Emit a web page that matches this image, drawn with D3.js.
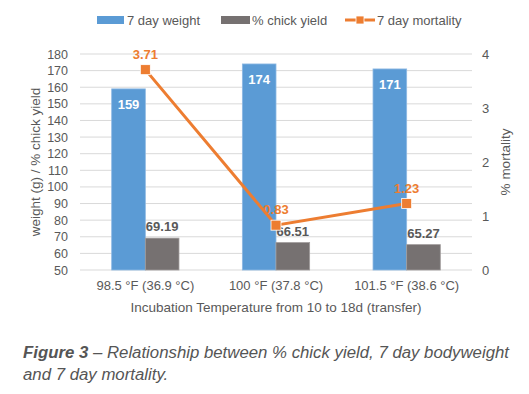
<!DOCTYPE html>
<html>
<head>
<meta charset="utf-8">
<script src="https://cdn.jsdelivr.net/npm/d3@7"></script>
<style>
  body { margin: 0; background: #fff; }
  svg { display: block; font-family: "Liberation Sans", Arial, sans-serif; }
</style>
</head>
<body>
<svg id="chart" width="529" height="394"></svg>
<script>
const categories = ["98.5 °F (36.9 °C)", "100 °F (37.8 °C)", "101.5 °F (38.6 °C)"];
const weight = [159, 174, 171];
const chickYield = [69.19, 66.51, 65.27];
const mortality = [3.71, 0.83, 1.23];
const leftTicks = d3.range(50, 181, 10);
const rightTicks = [0, 1, 2, 3, 4];

const svg = d3.select("#chart");
const plot = { left: 80, right: 472, top: 54, bottom: 270 };

const x = d3.scaleBand().domain(categories).range([plot.left, plot.right]).paddingInner(0.485).paddingOuter(0.2425);
const sub = d3.scaleBand().domain(["w", "y"]).range([0, x.bandwidth()]);
const yL = d3.scaleLinear().domain([50, 180]).range([plot.bottom, plot.top]);
const yR = d3.scaleLinear().domain([0, 4]).range([plot.bottom, plot.top]);

const textCol = "#595959";
const blue = "#5B9BD5", grey = "#767171", orange = "#ED7D31";
const fs = 13;

// gridlines
svg.append("g").selectAll("line")
  .data(leftTicks)
  .join("line")
  .attr("x1", plot.left).attr("x2", plot.right)
  .attr("y1", d => yL(d)).attr("y2", d => yL(d))
  .attr("stroke", "#d9d9d9").attr("stroke-width", 1);

// left axis
const leftAxis = svg.append("g")
  .attr("transform", `translate(${plot.left - 6},0)`)
  .call(d3.axisLeft(yL).tickValues(leftTicks).tickSize(0).tickPadding(6));
leftAxis.select(".domain").remove();
leftAxis.selectAll("text").attr("fill", textCol).attr("font-size", 12.5);

// right axis
const rightAxis = svg.append("g")
  .attr("transform", `translate(${plot.right + 4},0)`)
  .call(d3.axisRight(yR).tickValues(rightTicks).tickFormat(d3.format("d")).tickSize(0).tickPadding(6));
rightAxis.select(".domain").remove();
rightAxis.selectAll("text").attr("fill", textCol).attr("font-size", fs);

// x axis labels
const xAxis = svg.append("g")
  .attr("transform", `translate(0,${plot.bottom})`)
  .call(d3.axisBottom(x).tickSize(0).tickPadding(11));
xAxis.select(".domain").remove();
xAxis.selectAll("text").attr("fill", textCol).attr("font-size", fs);

// bars
const groups = svg.append("g").selectAll("g")
  .data(categories)
  .join("g")
  .attr("transform", d => `translate(${x(d)},0)`);

groups.append("rect")
  .attr("x", sub("w"))
  .attr("width", sub.bandwidth())
  .attr("y", (d, i) => yL(weight[i]))
  .attr("height", (d, i) => yL(50) - yL(weight[i]))
  .attr("fill", blue)
  .attr("stroke", "#8db8e3").attr("stroke-width", 0.8);

groups.append("rect")
  .attr("x", sub("y"))
  .attr("width", sub.bandwidth())
  .attr("y", (d, i) => yL(chickYield[i]))
  .attr("height", (d, i) => yL(50) - yL(chickYield[i]))
  .attr("fill", grey)
  .attr("stroke", "#a09c9c").attr("stroke-width", 0.8);

groups.append("text")
  .attr("x", sub("w") + sub.bandwidth() / 2)
  .attr("y", (d, i) => yL(weight[i]) + 20)
  .attr("text-anchor", "middle")
  .attr("fill", "#fff").attr("font-weight", "bold").attr("font-size", fs)
  .text((d, i) => weight[i]);

groups.append("text")
  .attr("x", sub("y") + sub.bandwidth() / 2)
  .attr("y", (d, i) => yL(chickYield[i]) - 7)
  .attr("text-anchor", "middle")
  .attr("fill", textCol).attr("font-weight", "bold").attr("font-size", fs)
  .text((d, i) => chickYield[i].toFixed(2));

// mortality line
const cx = d => x(d) + x.bandwidth() / 2;
const line = d3.line().x((d, i) => cx(categories[i])).y(d => yR(d));
svg.append("path")
  .datum(mortality)
  .attr("d", line)
  .attr("fill", "none")
  .attr("stroke", orange).attr("stroke-width", 3);

svg.append("g").selectAll("rect")
  .data(mortality)
  .join("rect")
  .attr("x", (d, i) => cx(categories[i]) - 5)
  .attr("y", d => yR(d) - 5)
  .attr("width", 10).attr("height", 10)
  .attr("fill", orange).attr("stroke", "#fff").attr("stroke-width", 0.8);

svg.append("g").selectAll("text")
  .data(mortality)
  .join("text")
  .attr("x", (d, i) => cx(categories[i]))
  .attr("y", d => yR(d) - 11)
  .attr("text-anchor", "middle")
  .attr("fill", orange).attr("font-weight", "bold").attr("font-size", fs)
  .text(d => d.toFixed(2));

// axis titles
svg.append("text")
  .attr("transform", `translate(40,${(plot.top + plot.bottom) / 2}) rotate(-90)`)
  .attr("text-anchor", "middle")
  .attr("fill", textCol).attr("font-size", 13.5)
  .text("weight (g) / % chick yield");

svg.append("text")
  .attr("transform", `translate(510,${(plot.top + plot.bottom) / 2}) rotate(-90)`)
  .attr("text-anchor", "middle")
  .attr("fill", textCol).attr("font-size", 13.5)
  .text("% mortality");

svg.append("text")
  .attr("x", (plot.left + plot.right) / 2 + 0)
  .attr("y", 312)
  .attr("text-anchor", "middle")
  .attr("fill", textCol).attr("font-size", 13.5)
  .text("Incubation Temperature from 10 to 18d (transfer)");

// legend
const legend = svg.append("g").attr("font-size", fs).attr("fill", textCol);
legend.append("rect").attr("x", 97).attr("y", 16).attr("width", 27).attr("height", 8).attr("fill", blue);
legend.append("text").attr("x", 127).attr("y", 25).attr("fill", textCol).text("7 day weight");
legend.append("rect").attr("x", 221).attr("y", 16).attr("width", 29).attr("height", 8).attr("fill", grey);
legend.append("text").attr("x", 252).attr("y", 25).attr("fill", textCol).text("% chick yield");
legend.append("line").attr("x1", 345).attr("x2", 375).attr("y1", 20).attr("y2", 20)
  .attr("stroke", orange).attr("stroke-width", 3);
legend.append("rect").attr("x", 356).attr("y", 16).attr("width", 8).attr("height", 8)
  .attr("fill", orange).attr("stroke", "#fff").attr("stroke-width", 0.8);
legend.append("text").attr("x", 377).attr("y", 25).attr("fill", textCol).text("7 day mortality");

// caption
const cap = svg.append("text")
  .attr("x", 23).attr("y", 358)
  .attr("fill", "#555").attr("font-size", 16.8).attr("font-style", "italic");
cap.append("tspan").attr("font-weight", "bold").text("Figure 3");
cap.append("tspan").text(" – Relationship between % chick yield, 7 day bodyweight");
svg.append("text")
  .attr("x", 23).attr("y", 380)
  .attr("fill", "#555").attr("font-size", 16.8).attr("font-style", "italic")
  .text("and 7 day mortality.");
</script>
</body>
</html>
